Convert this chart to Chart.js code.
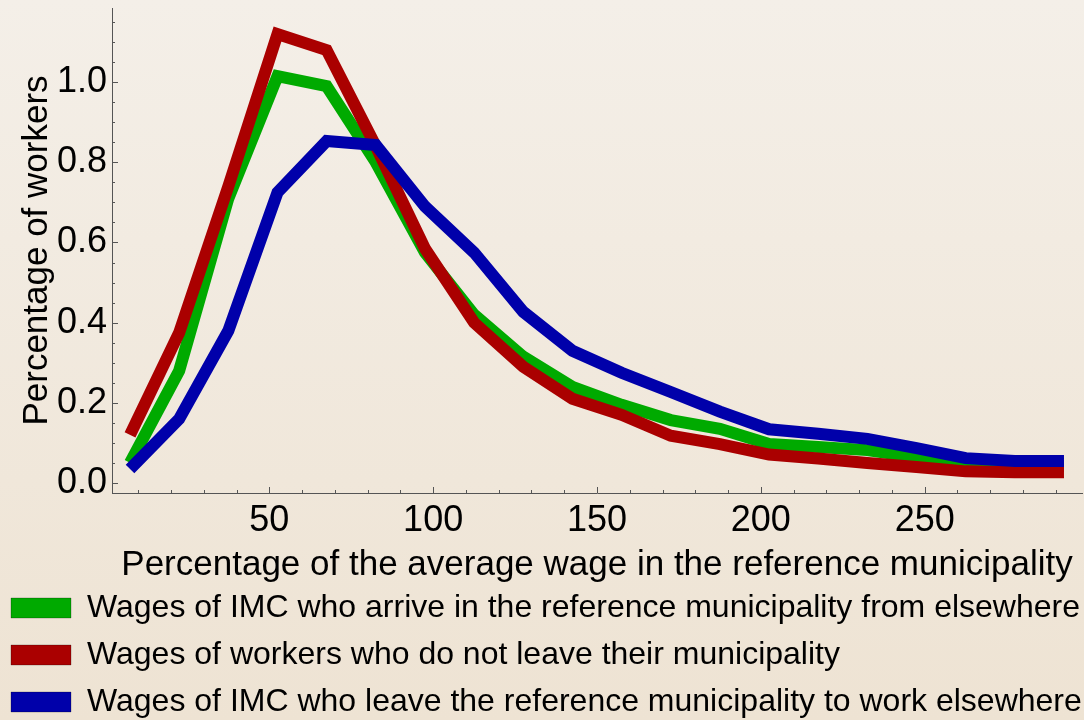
<!DOCTYPE html>
<html>
<head>
<meta charset="utf-8">
<title>Wages of IMC</title>
<script src="https://cdn.jsdelivr.net/npm/chart.js@4"></script>
<style>
	html, body { margin: 0; padding: 0; }
	body {
		width: 1084px;
		height: 720px;
		overflow: hidden;
		background: linear-gradient(#f4efe8, #eee3d3);
	}
	#chartBox { position: relative; width: 1084px; height: 720px; }
</style>
</head>
<body>
<div id="chartBox"><canvas id="WageChart"></canvas></div>
<script>
'use strict';

// x = bin centre, % of the average wage in the reference municipality
const wageBins = [7.5, 22.5, 37.5, 52.5, 67.5, 82.5, 97.5, 112.5, 127.5, 142.5,
	157.5, 172.5, 187.5, 202.5, 217.5, 232.5, 247.5, 262.5, 277.5, 292.5];

// percentage of workers
const arrivingIMC = [0.05, 0.28, 0.71, 1.015, 0.99, 0.80, 0.575, 0.42, 0.315, 0.24,
	0.195, 0.157, 0.135, 0.097, 0.09, 0.082, 0.064, 0.05, 0.042, 0.042];
const stayingWorkers = [0.12, 0.375, 0.74, 1.12, 1.08, 0.84, 0.585, 0.40, 0.29, 0.21,
	0.17, 0.118, 0.097, 0.071, 0.061, 0.05, 0.04, 0.029, 0.027, 0.027];
const leavingIMC = [0.035, 0.16, 0.38, 0.725, 0.853, 0.843, 0.69, 0.575, 0.427, 0.33,
	0.275, 0.227, 0.178, 0.134, 0.123, 0.11, 0.087, 0.062, 0.055, 0.055];

const seriesLabels = [
	'Wages of IMC who arrive in the reference municipality from elsewhere',
	'Wages of workers who do not leave their municipality',
	'Wages of IMC who leave the reference municipality to work elsewhere',
];
const seriesColors = ['rgb(0, 170, 0)', 'rgb(170, 0, 0)', 'rgb(0, 0, 170)'];

const xTitle = 'Percentage of the average wage in the reference municipality';
const yTitle = 'Percentage of workers';
const xMajorStep = 50;
const yMajorStep = 0.2;

const fontFamily = '"Liberation Sans", Arial, sans-serif';

function toPoints(_values) {
	return wageBins.map((x, i) => ({ x: x, y: _values[i] }));
}

function prepareDataSets() {
	const aryValues = [arrivingIMC, stayingWorkers, leavingIMC];
	// blue on top, then red, green underneath
	const aryOrder = [2, 1, 0];
	return aryValues.map((values, i) => ({
		label: seriesLabels[i],
		data: toPoints(values),
		borderColor: seriesColors[i],
		backgroundColor: seriesColors[i],
		borderWidth: 12,
		pointRadius: 0,
		pointHoverRadius: 0,
		tension: 0,
		order: aryOrder[i],
	}));
}

function isStep(_value, _step) {
	const r = _value / _step;
	return Math.abs(r - Math.round(r)) < 1e-6;
}

// Mathematica-style tick marks pointing into the plot
const innerTicks = {
	id: 'innerTicks',
	afterDraw(chart) {
		const { ctx, chartArea, scales } = chart;
		ctx.save();
		ctx.strokeStyle = '#555';
		ctx.lineWidth = 1;
		scales.x.ticks.forEach((t) => {
			if (!isStep(t.value, 10)) return;
			const px = Math.round(scales.x.getPixelForValue(t.value)) + 0.5;
			const len = isStep(t.value, xMajorStep) ? 6 : 3;
			ctx.beginPath();
			ctx.moveTo(px, chartArea.bottom);
			ctx.lineTo(px, chartArea.bottom - len);
			ctx.stroke();
		});
		scales.y.ticks.forEach((t) => {
			if (!isStep(t.value, 0.05)) return;
			const py = Math.round(scales.y.getPixelForValue(t.value)) + 0.5;
			const len = isStep(t.value, yMajorStep) ? 6 : 3;
			ctx.beginPath();
			ctx.moveTo(chartArea.left, py);
			ctx.lineTo(chartArea.left + len, py);
			ctx.stroke();
		});
		ctx.restore();
	},
};

function prepareOptions() {
	return {
		responsive: true,
		maintainAspectRatio: false,
		animation: false,
		layout: {
			padding: { top: 8, left: -4, right: 2, bottom: -8 },
		},
		plugins: {
			tooltip: { enabled: false },
			legend: {
				position: 'bottom',
				align: 'start',
				labels: {
					color: '#000',
					font: { family: fontFamily, size: 32 },
					boxWidth: 60,
					boxHeight: 20,
					padding: 15,
					sort: (a, b) => a.datasetIndex - b.datasetIndex,
					generateLabels: (chart) => Chart.defaults.plugins.legend.labels
						.generateLabels(chart)
						.map((item) => Object.assign(item, { lineWidth: 1, strokeStyle: 'rgba(0,0,0,0.25)' })),
				},
			},
		},
		scales: {
			x: {
				type: 'linear',
				min: 2,
				max: 298,
				grid: { display: false, drawTicks: false },
				border: { display: true, color: '#555', width: 1 },
				ticks: {
					stepSize: 10,
					autoSkip: false,
					includeBounds: false,
					maxRotation: 0,
					padding: 6,
					color: '#000',
					font: { family: fontFamily, size: 36 },
					callback: (v) => (isStep(v, xMajorStep) ? String(v) : ''),
				},
				title: {
					display: true,
					text: xTitle,
					color: '#000',
					font: { family: fontFamily, size: 35, lineHeight: 1 },
					padding: { top: 0, bottom: -5.5 },
				},
				afterFit: (s) => {
					s.height = 84;
					s.paddingLeft = 0;
					s.paddingRight = 0;
				},
			},
			y: {
				min: -0.025,
				max: 1.185,
				grid: { display: false, drawTicks: false },
				border: { display: true, color: '#555', width: 1 },
				ticks: {
					stepSize: 0.05,
					autoSkip: false,
					includeBounds: false,
					padding: 5,
					color: '#000',
					font: { family: fontFamily, size: 36 },
					callback: (v) => (v >= 0 && isStep(v, yMajorStep) ? v.toFixed(1) : ''),
				},
				title: {
					display: true,
					text: yTitle,
					color: '#000',
					font: { family: fontFamily, size: 35, lineHeight: 1 },
					padding: { top: 23.5, bottom: 0 },
				},
				afterFit: (s) => {
					s.width = 116;
					s.paddingTop = 0;
					s.paddingBottom = 0;
				},
			},
		},
	};
}

// *** Entry Point ***
const wageChart = new Chart(document.getElementById('WageChart'), {
	type: 'line',
	data: { datasets: prepareDataSets() },
	options: prepareOptions(),
	plugins: [innerTicks],
});
</script>
</body>
</html>
